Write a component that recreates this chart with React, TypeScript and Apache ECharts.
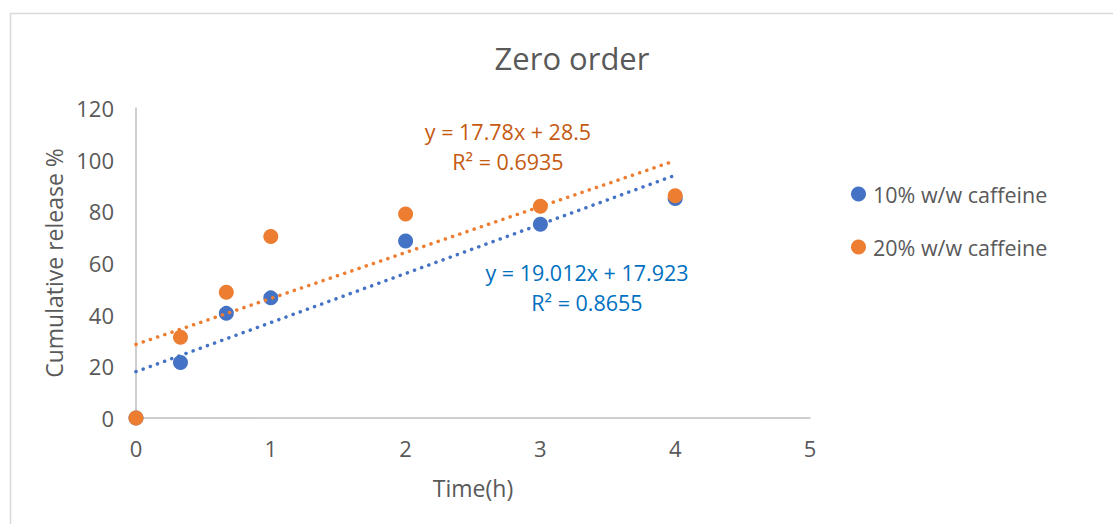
import React, { useEffect, useRef } from "react";
import * as echarts from "echarts";

const timeH = [0, 0.33, 0.67, 1, 2, 3, 4];
const release10 = [0, 21.5, 40.5, 46.5, 68.5, 75, 85];
const release20 = [0, 31.3, 48.7, 70.3, 79, 82, 86];
const seriesNames = ["10% w/w caffeine", "20% w/w caffeine"];
const trend10 = [
  [0, 17.923],
  [4, 93.971],
];
const trend20 = [
  [0, 28.5],
  [4, 99.62],
];
const trendText10 = ["y = 19.012x + 17.923", "R² = 0.8655"];
const trendText20 = ["y = 17.78x + 28.5", "R² = 0.6935"];

const FONT = "'Open Sans', 'Noto Sans', sans-serif";
const GREY = "#595959";

export default function App() {
  const ref = useRef<HTMLDivElement>(null);
  useEffect(() => {
    if (!ref.current) return;
    const chart = echarts.init(ref.current, null, { renderer: "svg" });
    const pts = (ys: number[]) => timeH.map((x, i) => [x, ys[i]]);
    const dotted = { type: [0.1, 7.5] as any, cap: "round" as any, width: 3.5 };
    const trendLabel = (text: string, x: number, y: number, color: string) => ({
      type: "text",
      x,
      y,
      style: {
        text,
        fill: color,
        font: `21.5px ${FONT}`,
        textAlign: "center",
        textVerticalAlign: "middle",
      },
    });
    chart.setOption({
      animation: false,
      textStyle: { fontFamily: FONT },
      title: {
        text: "Zero order",
        left: 567,
        top: 37,
        textAlign: "center",
        textStyle: { fontFamily: FONT, fontSize: 31, fontWeight: "normal", color: GREY },
      },
      legend: {
        orient: "vertical",
        left: 846,
        top: 178,
        itemGap: 31,
        itemWidth: 15,
        itemHeight: 15,
        icon: "circle",
        data: seriesNames,
        textStyle: { fontFamily: FONT, fontSize: 21.5, color: GREY, padding: [0, 0, 0, 2] },
      },
      grid: { left: 136, top: 108, right: 303, bottom: 106, containLabel: false },
      xAxis: {
        type: "value",
        min: 0,
        max: 5,
        interval: 1,
        name: "Time(h)",
        nameLocation: "middle",
        nameGap: 58,
        nameTextStyle: { fontFamily: FONT, fontSize: 23, color: GREY },
        axisLine: { show: true, lineStyle: { color: "#bfbfbf", width: 1.5 } },
        axisTick: { show: false },
        splitLine: { show: false },
        axisLabel: { fontFamily: FONT, fontSize: 22, color: GREY, margin: 19 },
      },
      yAxis: {
        type: "value",
        min: 0,
        max: 120,
        interval: 20,
        name: "Cumulative release %",
        nameLocation: "middle",
        nameGap: 68,
        nameTextStyle: { fontFamily: FONT, fontSize: 23, color: GREY },
        axisLine: { show: true, lineStyle: { color: "#bfbfbf", width: 1.5 } },
        axisTick: { show: false },
        splitLine: { show: false },
        axisLabel: { fontFamily: FONT, fontSize: 22, color: GREY, margin: 22 },
      },
      series: [
        {
          name: seriesNames[0],
          type: "scatter",
          symbol: "circle",
          symbolSize: 15,
          itemStyle: { color: "#4472C4", opacity: 1 },
          data: pts(release10),
          z: 2,
        },
        {
          name: seriesNames[1],
          type: "scatter",
          symbol: "circle",
          symbolSize: 15,
          itemStyle: { color: "#ED7D31", opacity: 1 },
          data: pts(release20),
          z: 3,
        },
        {
          name: "trend10",
          type: "line",
          showSymbol: false,
          symbol: "none",
          data: trend10,
          lineStyle: { ...dotted, color: "#4472C4" },
          z: 4,
        },
        {
          name: "trend20",
          type: "line",
          showSymbol: false,
          symbol: "none",
          data: trend20,
          lineStyle: { ...dotted, color: "#ED7D31" },
          z: 4,
        },
      ],
      graphic: [
        {
          type: "rect",
          shape: { x: 10.5, y: 13.5, width: 1110, height: 520 },
          style: { fill: "none", stroke: "#d9d9d9", lineWidth: 1.5 },
          silent: true,
          z: -10,
        },
        trendLabel(trendText20[0], 508, 131, "#C55A11"),
        trendLabel(trendText20[1], 508, 161, "#C55A11"),
        trendLabel(trendText10[0], 587, 272, "#0070C0"),
        trendLabel(trendText10[1], 587, 302, "#0070C0"),
      ],
    });
    return () => chart.dispose();
  }, []);
  return (
    <div
      ref={ref}
      style={{ position: "absolute", left: 0, top: 0, width: 1113, height: 524, background: "#fff" }}
    />
  );
}
